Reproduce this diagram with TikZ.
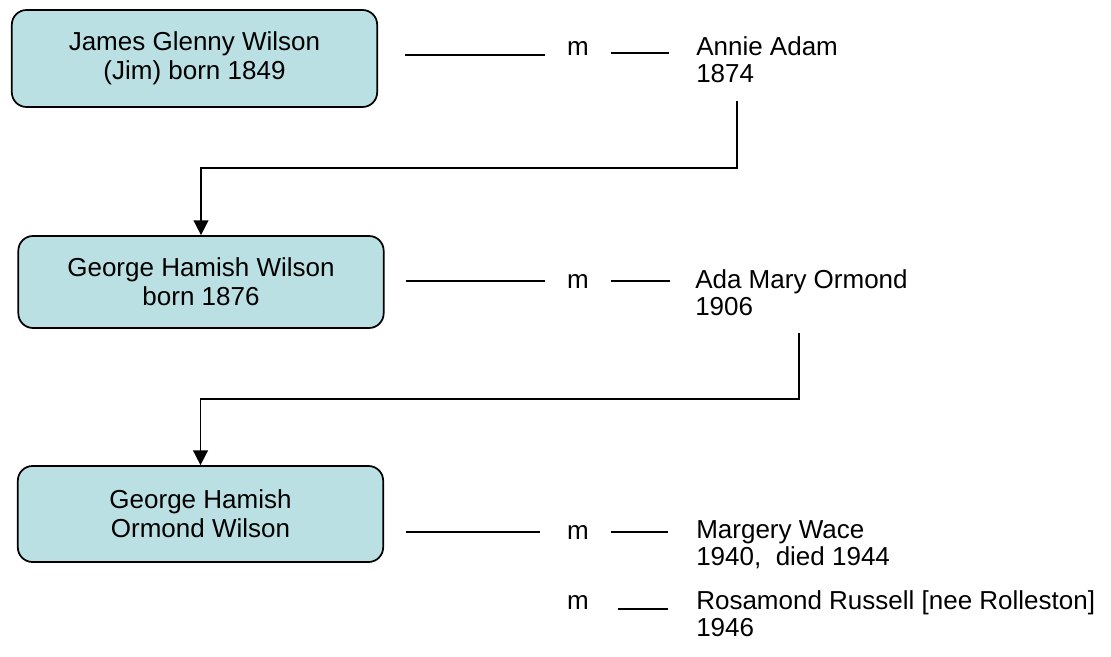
\documentclass[tikz,border=0pt]{standalone}
\usepackage{fontspec}
\setmainfont{Liberation Sans}
\usepackage{xcolor}
\definecolor{boxteal}{HTML}{BBE0E3}
\definecolor{inkdark}{HTML}{000000}
\usetikzlibrary{arrows.meta,positioning,calc}

\begin{document}
\begin{tikzpicture}[x=0.75pt, y=-0.75pt,
      person/.style={rectangle, rounded corners=11pt, draw=inkdark, fill=boxteal, text=inkdark, minimum width=274pt, align=center, line width=1.3pt, font=\fontsize{19.5}{21.5}\selectfont},
      spouse/.style={anchor=north west, inner sep=0pt, align=left, text=inkdark, font=\fontsize{19.5}{20.5}\selectfont},
      wed/.style={anchor=base, inner sep=0pt, minimum width=49.5pt, text=inkdark, font=\fontsize{19.5}{20.5}\selectfont},
      tie/.style={inkdark, line width=1.1pt},
      arr/.style={-{Triangle[width=11pt,length=11pt]}, inkdark, line width=1.2pt}
    ]
      \useasboundingbox (0,0) rectangle (1111,657);
      % generation 1
      \node[person, minimum height=72.75pt] (jim) at (194.5,58.5) {James Glenny Wilson\\(Jim) born 1849};
      \node[wed] (m1) at (578,55) {m};
      \node[spouse] (annie) at (696,36) {Annie Adam\\1874};
      \draw[tie] ($(jim.east |- m1.base)+(27,0)$) -- (m1.base west);
      \draw[tie] ($(m1.base east)+(0,-2)$) -- ($(m1.base east -| annie.west)+(-27,-2)$);
      % generation 2
      \node[person, minimum height=69pt] (george) at (201,282) {George Hamish Wilson\\born 1876};
      \node[wed] (m2) at (578,288) {m};
      \node[spouse] (ada) at (695,269) {Ada Mary Ormond\\1906};
      \draw[tie] ($(george.east |- m2.center)+(21,0)$) -- (m2.west);
      \draw[tie] (m2.east) -- ($(m2.east -| ada.west)+(-25,0)$);
      % generation 3
      \node[person, minimum height=72pt] (hamish) at (200.5,514) {George Hamish\\Ormond Wilson};
      \node[wed] (m3) at (578,539) {m};
      \node[spouse] (margery) at (696,520) {Margery Wace\\1940,~ died 1944};
      \node[wed] (m4) at (578,609) {m};
      \node[spouse] (rosamond) at (696,590) {Rosamond Russell [nee Rolleston]\\1946};
      \draw[tie] ($(hamish.east |- m3.center)+(22,0)$) -- ($(m3.west)+(-5,0)$);
      \draw[tie] (m3.east) -- ($(m3.east -| margery.west)+(-28,0)$);
      \draw[tie] ($(m4.base east)+(7,0)$) -- ($(m4.base east -| rosamond.west)+(-28,0)$);
      % descent
      \coordinate (annie drop) at (737,101);
      \coordinate (ada drop) at (799,333);
      \draw[arr] (annie drop) -- ++(0,67) -| (george.north);
      \draw[arr] (ada drop) -- ++(0,66) -| (hamish.north);
    \end{tikzpicture}
\end{document}
